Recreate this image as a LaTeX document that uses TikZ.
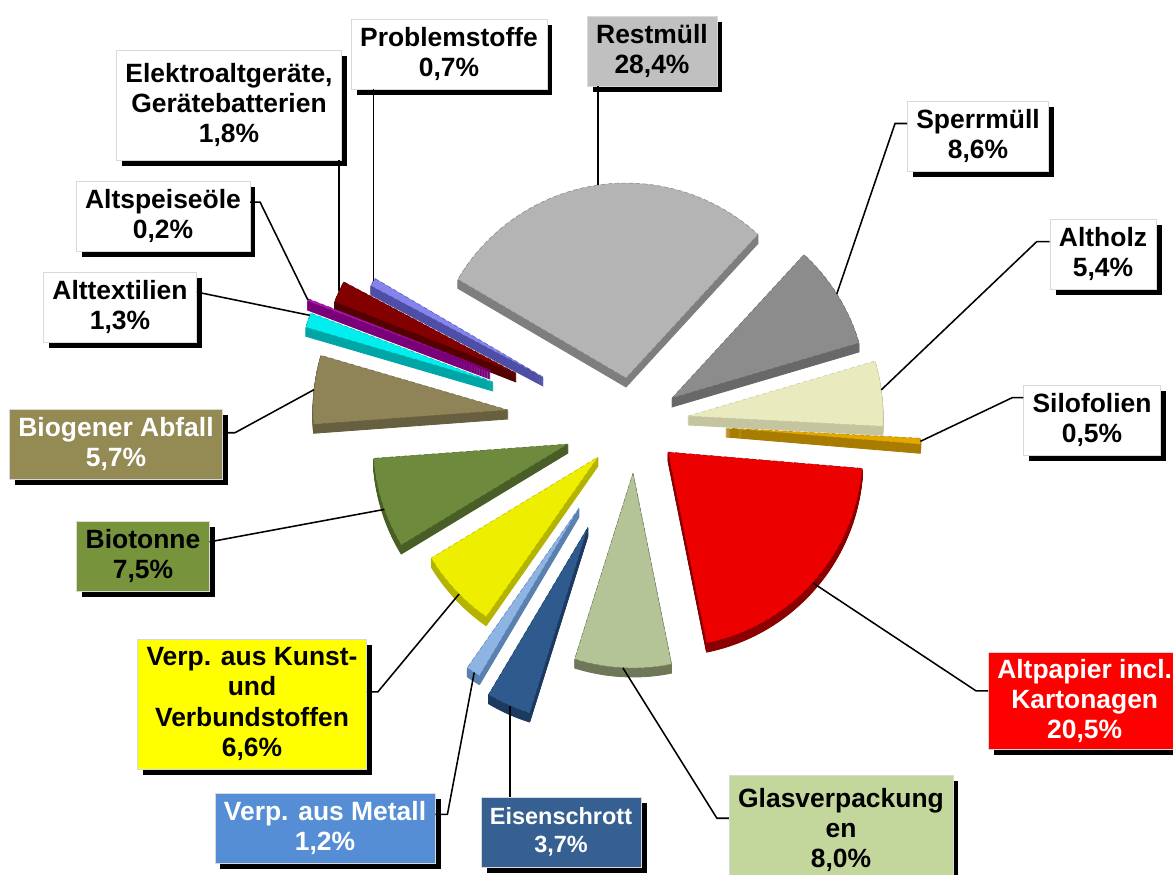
\documentclass[tikz,border=0pt]{standalone}
\usepackage{fontspec}
\setmainfont{Liberation Sans}
\usetikzlibrary{calc, shadows}
\definecolor{probTop}{HTML}{8484EC}
\definecolor{probSide}{HTML}{4E4EA6}
\definecolor{elekTop}{HTML}{820000}
\definecolor{elekSide}{HTML}{520000}
\definecolor{oelTop}{HTML}{A81AA8}
\definecolor{oelSide}{HTML}{7A007A}
\definecolor{textilTop}{HTML}{00EEEE}
\definecolor{textilSide}{HTML}{00A6A6}
\definecolor{restTop}{HTML}{B4B4B4}
\definecolor{restSide}{HTML}{7E7E7E}
\definecolor{sperrTop}{HTML}{8C8C8C}
\definecolor{sperrSide}{HTML}{686868}
\definecolor{holzTop}{HTML}{EAEABF}
\definecolor{holzSide}{HTML}{C4C49E}
\definecolor{siloTop}{HTML}{E2A800}
\definecolor{siloSide}{HTML}{A87C00}
\definecolor{papierTop}{HTML}{EC0000}
\definecolor{papierSide}{HTML}{8A0000}
\definecolor{glasTop}{HTML}{B4C496}
\definecolor{glasSide}{HTML}{6E7858}
\definecolor{eisenTop}{HTML}{2E5A8E}
\definecolor{eisenSide}{HTML}{1C3A60}
\definecolor{metallTop}{HTML}{8EB4E3}
\definecolor{metallSide}{HTML}{5A80B0}
\definecolor{kunstTop}{HTML}{EEEE00}
\definecolor{kunstSide}{HTML}{B4B400}
\definecolor{biotTop}{HTML}{6E8B3D}
\definecolor{biotSide}{HTML}{485E26}
\definecolor{biogTop}{HTML}{8F8458}
\definecolor{biogSide}{HTML}{676040}
\definecolor{restBox}{HTML}{C0C0C0}
\definecolor{papierBox}{HTML}{FF0000}
\definecolor{glasBox}{HTML}{C3D69B}
\definecolor{eisenBox}{HTML}{376092}
\definecolor{metallBox}{HTML}{558ED5}
\definecolor{kunstBox}{HTML}{FFFF00}
\definecolor{biotBox}{HTML}{77933C}
\definecolor{biogBox}{HTML}{948A54}

\begin{document}
\begin{tikzpicture}[x=0.25mm, y=-0.25mm]
\tikzset{LabelStyle/.style = {draw=black!15, line width=0.4pt, fill=white, align=center,
    inner xsep=2.25mm, inner ysep=1mm, minimum height=17.5mm,
    font=\bfseries\fontsize{18.8}{21.6}\selectfont,
    drop shadow={shadow xshift=1.4mm, shadow yshift=-1.4mm, fill=black, opacity=1}}}
\tikzset{LinkStyle/.style = {draw, line width=1.1pt}}
\useasboundingbox (0,0) rectangle (1173,874);

% pie slices: name/tip x/tip y/start/end/link angle/top/side
\foreach \nm/\tx/\ty/\sa/\ea/\la/\tc/\sc in {
    prob/543/377/207.9/210.4/209.5/probTop/probSide,
    elek/516/373/201.4/207.9/204.8/elekTop/elekSide,
    oel/490/370/200.7/201.4/201/oelTop/oelSide,
    textil/493/382/196.3/200.7/200/textilTop/textilSide,
    rest/626/378/-149.6/-47.4/-98.3/restTop/restSide,
    sperr/672/398/-47.4/-16.4/-32.3/sperrTop/sperrSide,
    holz/688/416/-16.4/3.0/-7.7/holzTop/holzSide,
    silo/726/428/3.0/4.8/3.9/siloTop/siloSide,
    biog/508/410/175.8/196.3/186/biogTop/biogSide,
    biot/568/444/148.8/175.8/160.4/biotTop/biotSide,
    kunst/598/457/125.0/148.8/135.4/kunstTop/kunstSide,
    metall/579/508/120.7/125.0/122.5/metallTop/metallSide,
    eisen/588/527/107.4/120.7/113.6/eisenTop/eisenSide,
    glas/633/473/78.6/107.4/93/glasTop/glasSide,
    papier/668/452/4.8/78.6/42.1/papierTop/papierSide}
{
    \coordinate (\nm-tip) at (\tx,\ty);
    \foreach \k in {1,...,9}
        \filldraw[\sc, line width=0.6pt, line join=round] (\tx,\ty+\k) -- ++(\sa:195)
            arc[start angle=\sa, end angle=\ea, radius=195] -- cycle;
    \filldraw[fill=\tc, draw=\sc, densely dashed, line width=0.3pt]
        (\nm-tip) -- ++(\sa:195) arc[start angle=\sa, end angle=\ea, radius=195] -- cycle;
    \coordinate (\nm-a) at ($(\nm-tip)+(\la:195)$);
}

% labels
\node[LabelStyle] (prob) at (449,54) {Problemstoffe\\0,7\%};
\node[LabelStyle, minimum height=27.5mm] (elek) at (229,105) {Elektroaltgeräte,\\Gerätebatterien\\1,8\%};
\node[LabelStyle, fill=restBox] (rest) at (652,51) {Restmüll\\28,4\%};
\node[LabelStyle] (sperr) at (978,136) {Sperrmüll\\8,6\%};
\node[LabelStyle] (holz) at (1103,254) {Altholz\\5,4\%};
\node[LabelStyle] (silo) at (1092,420) {Silofolien\\0,5\%};
\node[LabelStyle] (oel) at (163,216) {Altspeiseöle\\0,2\%};
\node[LabelStyle] (textil) at (120,307) {Alttextilien\\1,3\%};
\node[LabelStyle, fill=biogBox, text=white] (biog) at (116,444) {Biogener Abfall\\5,7\%};
\node[LabelStyle, fill=biotBox] (biot) at (143,556) {Biotonne\\7,5\%};
\node[LabelStyle, fill=kunstBox, minimum height=32.5mm] (kunst) at (252,704) {Verp. aus Kunst-\\und\\Verbundstoffen\\6,6\%};
\node[LabelStyle, fill=metallBox, text=white] (metall) at (325,828) {Verp. aus Metall\\1,2\%};
\node[LabelStyle, fill=eisenBox, text=white, font=\bfseries\fontsize{16.7}{19.8}\selectfont] (eisen) at (561,832) {Eisenschrott\\3,7\%};
\node[LabelStyle, fill=glasBox, minimum height=27.5mm] (glas) at (841,830) {Glasverpackung\\en\\8,0\%};
\node[LabelStyle, fill=papierBox, text=white, minimum height=24.25mm, anchor=west] (papier) at (988,701) {Altpapier incl.\\Kartonagen\\20,5\%};

% leader lines
\draw[LinkStyle] (prob-a |- prob.south) -- (prob-a);
\draw[LinkStyle] (elek-a |- elek.south) -- (elek-a);
\draw[LinkStyle] (rest-a |- rest.south) -- (rest-a);
\draw[LinkStyle] (sperr.170) -- ++(-12,0) -- (sperr-a);
\draw[LinkStyle] (holz.167) -- ++(-13,0) -- (holz-a);
\draw[LinkStyle] (silo.162) -- ++(-11,0) -- (silo-a);
\draw[LinkStyle] (oel.9) -- ++(10,0) -- (oel-a);
\draw[LinkStyle] (textil.11) -- (textil-a);
\draw[LinkStyle] (biog.6) -- ++(12,0) -- (biog-a);
\draw[LinkStyle] (biot.12) -- (biot-a);
\draw[LinkStyle] (kunst.6) -- ++(11,0) -- (kunst-a);
\draw[LinkStyle] (metall.7) -- ++(12,0) -- (metall-a);
\draw[LinkStyle] (eisen-a |- eisen.north) -- (eisen-a);
\draw[LinkStyle] (glas.174) -- ++(-12,0) -- (glas-a);
\draw[LinkStyle] (papier.174) -- ++(-12,0) -- (papier-a);
\end{tikzpicture}
\end{document}
